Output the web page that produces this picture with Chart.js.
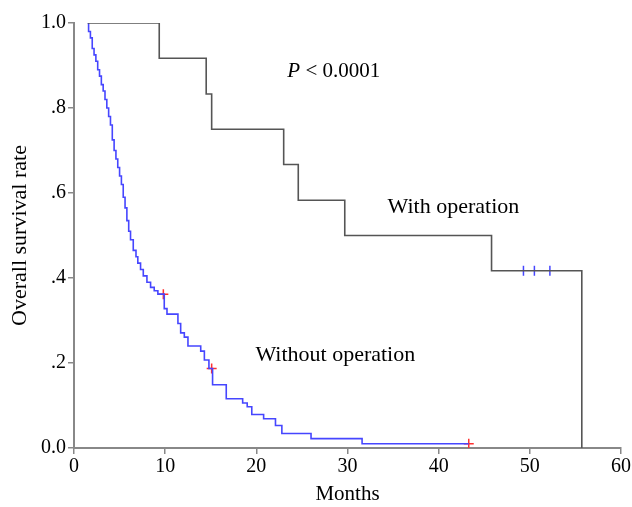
<!DOCTYPE html>
<html>
<head>
<meta charset="utf-8">
<script src="https://cdn.jsdelivr.net/npm/chart.js@4.4.1/dist/chart.umd.min.js"></script>
<style>
  html, body { margin: 0; padding: 0; background: #fff; }
  #box { width: 632px; height: 507px; }
</style>
</head>
<body>
<div id="box"><canvas id="km" width="632" height="507"></canvas></div>
<script>
// x axis ticks (months) and y axis ticks
var xTicks = [0, 10, 20, 30, 40, 50, 60]
var yTicks = [0, 0.2, 0.4, 0.6, 0.8, 1.0]

// with operation: event times and survival after each drop
var withTime = [1.5, 9.35, 14.5, 15.1, 23.0, 24.6, 29.7, 45.8, 55.7]
var withSurv = [1.0, 0.917, 0.833, 0.75, 0.667, 0.583, 0.5, 0.417, 0]
var withCensTime = [49.3, 50.5, 52.2]
var withCensSurv = [0.417, 0.417, 0.417]

// without operation
var withoutTime = [1.5, 1.6, 1.8, 2.0, 2.2, 2.4, 2.6, 2.8, 3.0, 3.2, 3.4, 3.6, 3.8, 4.0, 4.2, 4.4,
    4.6, 4.8, 5.0, 5.2, 5.4, 5.6, 5.8, 6.0, 6.2, 6.5, 6.8, 7.0, 7.3, 7.6, 8.0, 8.4, 8.8, 9.2,
    9.9, 10.2, 11.4, 11.7, 12.1, 12.5, 13.9, 14.3, 14.8,
    15.2, 16.7, 18.5, 19.0, 19.5, 20.8, 22.1, 22.8, 26.0, 31.6, 43.3]
var withoutSurv = [1.0, 0.98, 0.965, 0.94, 0.925, 0.91, 0.89, 0.875, 0.855, 0.84, 0.82, 0.8, 0.78, 0.76, 0.725, 0.7,
    0.68, 0.66, 0.64, 0.62, 0.59, 0.565, 0.535, 0.51, 0.49, 0.465, 0.45, 0.435, 0.42, 0.405, 0.39, 0.378, 0.37, 0.362,
    0.328, 0.315, 0.293, 0.271, 0.261, 0.24, 0.228, 0.207, 0.187,
    0.149, 0.116, 0.106, 0.097, 0.079, 0.069, 0.053, 0.034, 0.022, 0.01, 0.01]
var withoutCensTime = [9.8, 15.1, 43.3]
var withoutCensSurv = [0.362, 0.187, 0.01]

var serif = "'Liberation Serif', 'Times New Roman', serif"

function pts(xs, ys) {
    return xs.map(function (v, i) { return { x: v, y: ys[i] } })
}

// texts placed in data units
var notes = [
    { text: 'With operation', x: 34.4, y: 0.567 },
    { text: 'Without operation', x: 19.9, y: 0.218 }
]

var notePlugin = {
    id: 'notes',
    afterDatasetsDraw: function (chart) {
        var c = chart.ctx
        var sx = chart.scales.x, sy = chart.scales.y
        c.save()
        c.fillStyle = '#000'
        c.textBaseline = 'middle'
        c.textAlign = 'left'
        c.font = '22px ' + serif
        notes.forEach(function (n) {
            c.fillText(n.text, sx.getPixelForValue(n.x), sy.getPixelForValue(n.y))
        })
        // P value with italic P
        var px = sx.getPixelForValue(23.4), py = sy.getPixelForValue(0.885)
        c.font = 'italic 21px ' + serif
        c.fillText('P', px, py)
        var w = c.measureText('P ').width
        c.font = '21px ' + serif
        c.fillText('< 0.0001', px + w, py)
        c.restore()
    }
}

var ctx = document.getElementById('km').getContext('2d')
var chart = new Chart(ctx, {
    type: 'line',
    data: {
        datasets: [{
            label: 'With operation',
            data: pts(withTime, withSurv),
            stepped: true,
            borderColor: '#555555',
            borderWidth: 1.6,
            pointRadius: 0,
            fill: false
        }, {
            label: 'Without operation',
            data: pts(withoutTime, withoutSurv),
            stepped: true,
            borderColor: '#4646ff',
            borderWidth: 1.6,
            pointRadius: 0,
            fill: false
        }, {
            type: 'scatter',
            label: 'censored (with)',
            data: pts(withCensTime, withCensSurv),
            pointStyle: 'line',
            rotation: 90,
            radius: 5,
            borderColor: '#4646ff',
            borderWidth: 1.5
        }, {
            type: 'scatter',
            label: 'censored (without)',
            data: pts(withoutCensTime, withoutCensSurv),
            pointStyle: 'cross',
            radius: 5,
            borderColor: '#ff3030',
            borderWidth: 1.5
        }]
    },
    options: {
        responsive: false,
        animation: false,
        devicePixelRatio: 1,
        layout: { padding: { left: 0, right: 11, top: 23, bottom: 0 } },
        plugins: {
            legend: { display: false },
            tooltip: { enabled: false }
        },
        scales: {
            x: {
                type: 'linear',
                min: 0,
                max: 60,
                afterBuildTicks: function (s) { s.ticks = xTicks.map(function (v) { return { value: v } }) },
                afterFit: function (s) { s.height = 59 },
                ticks: { color: '#000', font: { family: serif, size: 20 }, padding: 1, maxRotation: 0 },
                grid: { drawOnChartArea: false, drawTicks: true, tickLength: 6, color: '#888', lineWidth: 1.5 },
                border: { color: '#888', width: 2 },
                title: { display: true, text: 'Months', color: '#000', font: { family: serif, size: 21 }, padding: { top: 0, bottom: 0 } }
            },
            y: {
                min: 0,
                max: 1,
                afterBuildTicks: function (s) { s.ticks = yTicks.map(function (v) { return { value: v } }) },
                afterFit: function (s) { s.width = 74 },
                ticks: {
                    color: '#000',
                    font: { family: serif, size: 20 },
                    padding: 2,
                    callback: function (v) {
                        if (v === 0) return '0.0'
                        if (v === 1) return '1.0'
                        return v.toFixed(1).replace(/^0/, '')
                    }
                },
                grid: { drawOnChartArea: false, drawTicks: true, tickLength: 6, color: '#888', lineWidth: 1.5 },
                border: { color: '#888', width: 2 },
                title: { display: true, text: 'Overall survival rate', color: '#000', font: { family: serif, size: 22 }, padding: { top: 7, bottom: 0 } }
            }
        }
    },
    plugins: [notePlugin]
})
</script>
</body>
</html>
